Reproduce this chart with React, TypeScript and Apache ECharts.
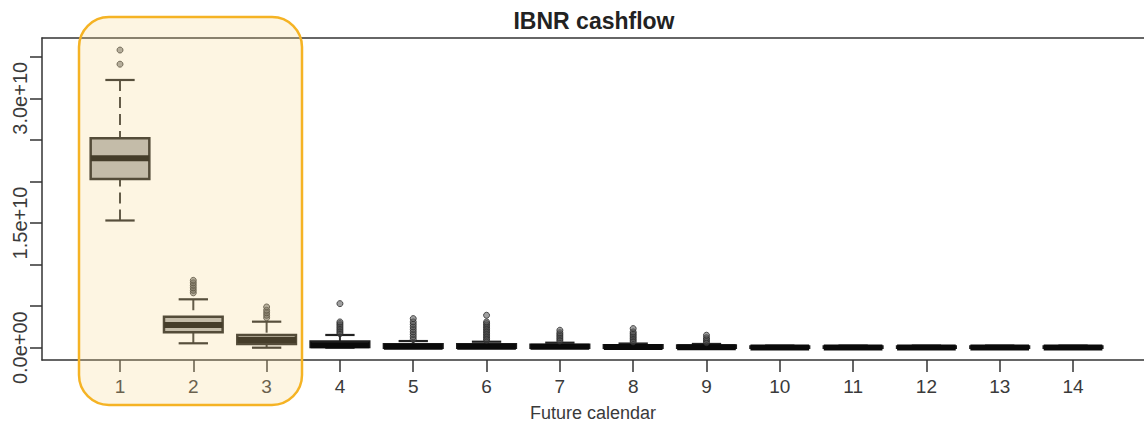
import React, { useEffect, useRef } from "react";
import * as echarts from "echarts";

const FONT = '"Liberation Sans", Arial, Helvetica, sans-serif';

const categories = [1, 2, 3, 4, 5, 6, 7, 8, 9, 10, 11, 12, 13, 14];
const whiskerLow = [1.53e10, 0.053e10, 0, 0, 0, 0, 0, 0, 0, 0, 0, 0, 0, 0];
const q1Values = [2.03e10, 0.185e10, 0.045e10, 0.008e10, 0, 0, 0, 0, 0, 0, 0, 0, 0, 0];
const medians = [2.28e10, 0.273e10, 0.093e10, 0.03e10, 0.012e10, 0.012e10, 0.01e10, 0.008e10, 0.006e10, 0.003e10, 0.003e10, 0.003e10, 0.003e10, 0.003e10];
const q3Values = [2.52e10, 0.373e10, 0.153e10, 0.075e10, 0.04e10, 0.04e10, 0.035e10, 0.03e10, 0.025e10, 0.015e10, 0.015e10, 0.015e10, 0.015e10, 0.015e10];
const whiskerHigh = [3.22e10, 0.582e10, 0.313e10, 0.153e10, 0.08e10, 0.072e10, 0.06e10, 0.05e10, 0.045e10, 0.025e10, 0.025e10, 0.025e10, 0.025e10, 0.025e10];
const outliers = [
  [3.41e10, 3.58e10],
  [0.66e10, 0.69e10, 0.72e10, 0.75e10, 0.78e10, 0.81e10],
  [0.36e10, 0.39e10, 0.42e10, 0.45e10, 0.49e10],
  [0.17e10, 0.19e10, 0.21e10, 0.23e10, 0.25e10, 0.27e10, 0.29e10, 0.31e10, 0.53e10],
  [0.1e10, 0.13e10, 0.16e10, 0.19e10, 0.22e10, 0.25e10, 0.28e10, 0.31e10, 0.35e10],
  [0.09e10, 0.11e10, 0.13e10, 0.15e10, 0.17e10, 0.19e10, 0.21e10, 0.23e10, 0.25e10, 0.27e10, 0.29e10, 0.31e10, 0.39e10],
  [0.08e10, 0.1e10, 0.12e10, 0.14e10, 0.16e10, 0.18e10, 0.21e10],
  [0.07e10, 0.09e10, 0.11e10, 0.13e10, 0.15e10, 0.17e10, 0.19e10, 0.23e10],
  [0.06e10, 0.08e10, 0.1e10, 0.12e10, 0.15e10],
  [],
  [],
  [],
  [],
  [],
];

const yTickValues = [0, 0.5e10, 1e10, 1.5e10, 2e10, 2.5e10, 3e10, 3.5e10];
const yLabelValues = [0, 1.5e10, 3e10];
const yTickLabels = ["0.0e+00", "1.5e+10", "3.0e+10"];

const TITLE = "IBNR cashflow";
const X_NAME = "Future calendar";

export default function App() {
  const ref = useRef<HTMLDivElement>(null);

  useEffect(() => {
    if (!ref.current) return;
    const chart = echarts.init(ref.current, undefined, { renderer: "svg" });

    const boxData = categories.map((c, i) => [
      c,
      whiskerLow[i],
      q1Values[i],
      medians[i],
      q3Values[i],
      whiskerHigh[i],
    ]);
    const outlierData: number[][] = [];
    outliers.forEach((vals, i) => {
      vals.forEach((v) => outlierData.push([categories[i], v]));
    });

    const axisColor = "#333";
    const textColor = "#3a3a3a";
    const xMin = -0.064;
    const xMax = 14.968;

    chart.setOption({
      animation: false,
      backgroundColor: "#ffffff",
      grid: {
        left: 42,
        right: 0,
        top: 38,
        bottom: 66,
        containLabel: false,
        outerBoundsMode: "none",
      },
      xAxis: [
        {
          type: "value",
          min: xMin,
          max: xMax,
          position: "bottom",
          axisLine: { show: true, onZero: false, lineStyle: { color: axisColor, width: 1.5 } },
          axisTick: {
            show: true,
            length: 12,
            customValues: categories,
            lineStyle: { color: axisColor, width: 1.5 },
          },
          axisLabel: {
            customValues: categories,
            margin: 17,
            fontSize: 19,
            fontFamily: FONT,
            color: textColor,
            formatter: (v: number) => String(v),
          },
          splitLine: { show: false },
          name: X_NAME,
          nameLocation: "middle",
          nameGap: 44,
          nameTextStyle: { fontSize: 18, fontFamily: FONT, color: textColor },
        },
        {
          type: "value",
          min: xMin,
          max: xMax,
          position: "top",
          axisLine: { show: true, onZero: false, lineStyle: { color: axisColor, width: 1.5 } },
          axisTick: { show: false },
          axisLabel: { show: false },
          splitLine: { show: false },
        },
      ],
      yAxis: {
        type: "value",
        min: -0.148e10,
        max: 3.725e10,
        axisLine: { show: true, onZero: false, lineStyle: { color: axisColor, width: 1.5 } },
        axisTick: {
          show: true,
          length: 12,
          customValues: yTickValues,
          lineStyle: { color: axisColor, width: 1.5 },
        },
        axisLabel: {
          customValues: yLabelValues,
          rotate: 90,
          margin: 12,
          fontSize: 20,
          fontFamily: FONT,
          color: textColor,
          formatter: (v: number) => {
            const i = yLabelValues.indexOf(v);
            return i >= 0 ? yTickLabels[i] : "";
          },
        },
        splitLine: { show: false },
      },
      series: [
        {
          type: "custom",
          xAxisIndex: 0,
          encode: { x: 0, y: [1, 2, 3, 4, 5] },
          data: boxData,
          z: 2,
          renderItem: (_params: any, api: any) => {
            const x = api.value(0);
            const lo = api.coord([x, api.value(1)]);
            const b1 = api.coord([x, api.value(2)]);
            const md = api.coord([x, api.value(3)]);
            const b3 = api.coord([x, api.value(4)]);
            const hi = api.coord([x, api.value(5)]);
            const w = api.size([0.8, 0])[0];
            const cx = lo[0];
            const whiskerStyle = { stroke: "#333", lineWidth: 2, lineDash: [11, 6] };
            const stapleStyle = { stroke: "#222", lineWidth: 2.2 };
            return {
              type: "group",
              children: [
                { type: "line", shape: { x1: cx, y1: hi[1], x2: cx, y2: b3[1] }, style: whiskerStyle },
                { type: "line", shape: { x1: cx, y1: lo[1], x2: cx, y2: b1[1] }, style: whiskerStyle },
                { type: "line", shape: { x1: cx - w / 4, y1: hi[1], x2: cx + w / 4, y2: hi[1] }, style: stapleStyle },
                { type: "line", shape: { x1: cx - w / 4, y1: lo[1], x2: cx + w / 4, y2: lo[1] }, style: stapleStyle },
                {
                  type: "rect",
                  shape: { x: cx - w / 2, y: b3[1], width: w, height: Math.max(b1[1] - b3[1], 0.5) },
                  style: { fill: "#b3b3b3", stroke: "#1e1e1e", lineWidth: 2.5 },
                },
                {
                  type: "line",
                  shape: { x1: cx - w / 2, y1: md[1], x2: cx + w / 2, y2: md[1] },
                  style: { stroke: "#0a0a0a", lineWidth: 6 },
                },
              ],
            };
          },
        },
        {
          type: "scatter",
          xAxisIndex: 0,
          data: outlierData,
          symbol: "circle",
          symbolSize: 6,
          z: 3,
          itemStyle: { color: "rgba(85,85,85,0.7)", borderColor: "#2a2a2a", borderWidth: 1 },
        },
      ],
      graphic: [
        {
          type: "text",
          x: 594,
          y: 21,
          style: {
            text: TITLE,
            fontSize: 23,
            fontWeight: "bold",
            fontFamily: FONT,
            fill: "#222",
            align: "center",
            verticalAlign: "middle",
          },
        },
        {
          type: "rect",
          z: 100,
          shape: { x: 79, y: 17, width: 223, height: 388, r: 30 },
          style: { fill: "rgba(249,217,138,0.25)", stroke: "#f5b324", lineWidth: 2.5 },
        },
      ],
    });

    return () => chart.dispose();
  }, []);

  return (
    <div
      ref={ref}
      style={{ position: "fixed", left: 0, top: 0, width: 1144, height: 426 }}
    />
  );
}
